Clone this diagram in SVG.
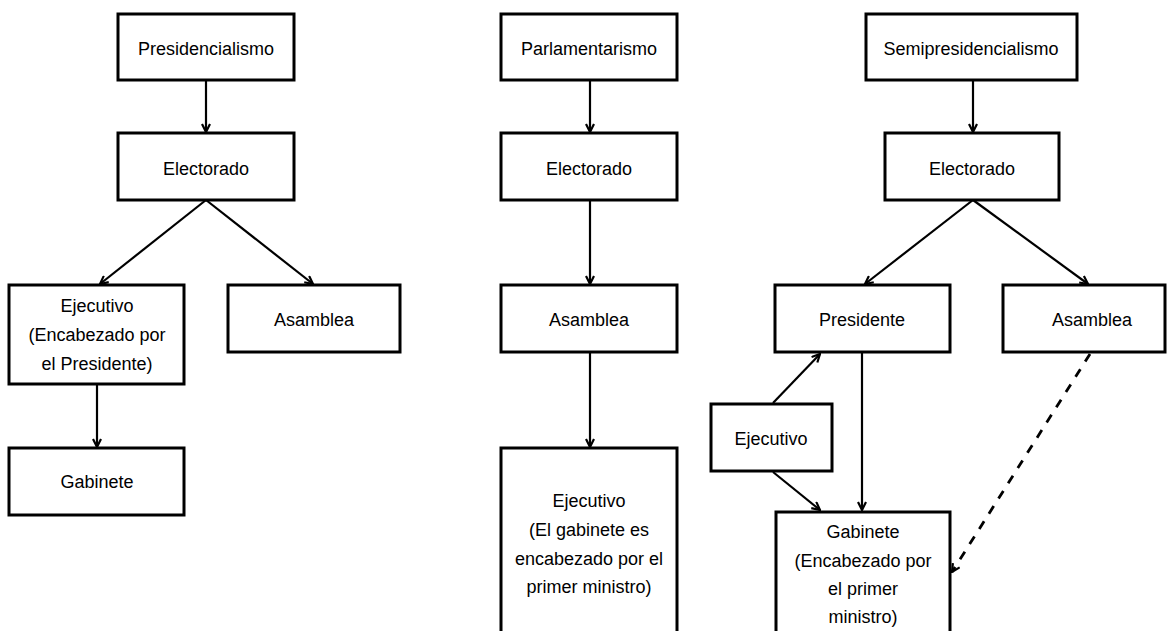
<svg xmlns="http://www.w3.org/2000/svg" width="1167" height="631" viewBox="0 0 1167 631">
<defs>
<style>
.box{fill:#fff;stroke:#000;stroke-width:3}
.t{font-family:"Liberation Sans",Arial,sans-serif;font-size:18px;fill:#000;text-anchor:middle}
.c{fill:none;stroke:#000;stroke-width:2.2}
.d{fill:none;stroke:#000;stroke-width:2.8;stroke-dasharray:9 9}
</style>
<marker id="ah" viewBox="0 0 10 10" refX="9" refY="5" markerWidth="10" markerHeight="10" markerUnits="userSpaceOnUse" orient="auto">
<path d="M1,1 L9,5 L1,9" fill="none" stroke="#000" stroke-width="2.2"/>
</marker>
</defs>
<rect width="1167" height="631" fill="#fff"/>
<g id="connectors">
<line class="c" x1="206" y1="80" x2="206" y2="132" marker-end="url(#ah)"/>
<line class="c" x1="206" y1="200" x2="100" y2="284" marker-end="url(#ah)"/>
<line class="c" x1="206" y1="200" x2="313" y2="284" marker-end="url(#ah)"/>
<line class="c" x1="97" y1="384" x2="97" y2="447" marker-end="url(#ah)"/>
<line class="c" x1="590" y1="80" x2="590" y2="132" marker-end="url(#ah)"/>
<line class="c" x1="590" y1="200" x2="590" y2="284" marker-end="url(#ah)"/>
<line class="c" x1="590" y1="352" x2="590" y2="447" marker-end="url(#ah)"/>
<line class="c" x1="973" y1="80" x2="973" y2="132" marker-end="url(#ah)"/>
<line class="c" x1="973" y1="200" x2="865" y2="284" marker-end="url(#ah)"/>
<line class="c" x1="973" y1="200" x2="1088" y2="284" marker-end="url(#ah)"/>
<line class="c" x1="773" y1="403" x2="820" y2="354" marker-end="url(#ah)"/>
<line class="c" x1="773" y1="472" x2="820" y2="510" marker-end="url(#ah)"/>
<line class="c" x1="862" y1="352" x2="862" y2="510" marker-end="url(#ah)"/>
<line class="d" x1="1090" y1="354" x2="952" y2="572" marker-end="url(#ah)"/>
</g>
<g id="presidencialismo"><rect class="box" x="118" y="14" width="176" height="66"/><text class="t" x="206" y="55">Presidencialismo</text></g>
<g id="electorado1"><rect class="box" x="118" y="133" width="176" height="67"/><text class="t" x="206" y="175">Electorado</text></g>
<g id="ejecutivo1"><rect class="box" x="9" y="285" width="175" height="99"/><text class="t" x="97" y="312">Ejecutivo</text><text class="t" x="97" y="341">(Encabezado por</text><text class="t" x="97" y="370">el Presidente)</text></g>
<g id="asamblea1"><rect class="box" x="228" y="285" width="172" height="67"/><text class="t" x="314" y="326">Asamblea</text></g>
<g id="gabinete1"><rect class="box" x="9" y="448" width="175" height="67"/><text class="t" x="97" y="488">Gabinete</text></g>
<g id="parlamentarismo"><rect class="box" x="501" y="14" width="176" height="66"/><text class="t" x="589" y="55">Parlamentarismo</text></g>
<g id="electorado2"><rect class="box" x="501" y="133" width="176" height="67"/><text class="t" x="589" y="175">Electorado</text></g>
<g id="asamblea2"><rect class="box" x="501" y="285" width="176" height="67"/><text class="t" x="589" y="326">Asamblea</text></g>
<g id="ejecutivo2"><rect class="box" x="501" y="448" width="176" height="200"/><text class="t" x="589" y="507">Ejecutivo</text><text class="t" x="589" y="536">(El gabinete es</text><text class="t" x="589" y="565">encabezado por el</text><text class="t" x="589" y="593">primer ministro)</text></g>
<g id="semipresidencialismo"><rect class="box" x="866" y="14" width="211" height="66"/><text class="t" x="971" y="55">Semipresidencialismo</text></g>
<g id="electorado3"><rect class="box" x="885" y="133" width="174" height="67"/><text class="t" x="972" y="175">Electorado</text></g>
<g id="presidente"><rect class="box" x="775" y="285" width="175" height="67"/><text class="t" x="862" y="326">Presidente</text></g>
<g id="asamblea3"><rect class="box" x="1003" y="285" width="162" height="67"/><text class="t" x="1092" y="326">Asamblea</text></g>
<g id="ejecutivo3"><rect class="box" x="711" y="404" width="121" height="67"/><text class="t" x="771" y="445">Ejecutivo</text></g>
<g id="gabinete3"><rect class="box" x="776" y="512" width="174" height="140"/><text class="t" x="863" y="538">Gabinete</text><text class="t" x="863" y="567">(Encabezado por</text><text class="t" x="863" y="595">el primer</text><text class="t" x="863" y="623">ministro)</text></g>
</svg>
